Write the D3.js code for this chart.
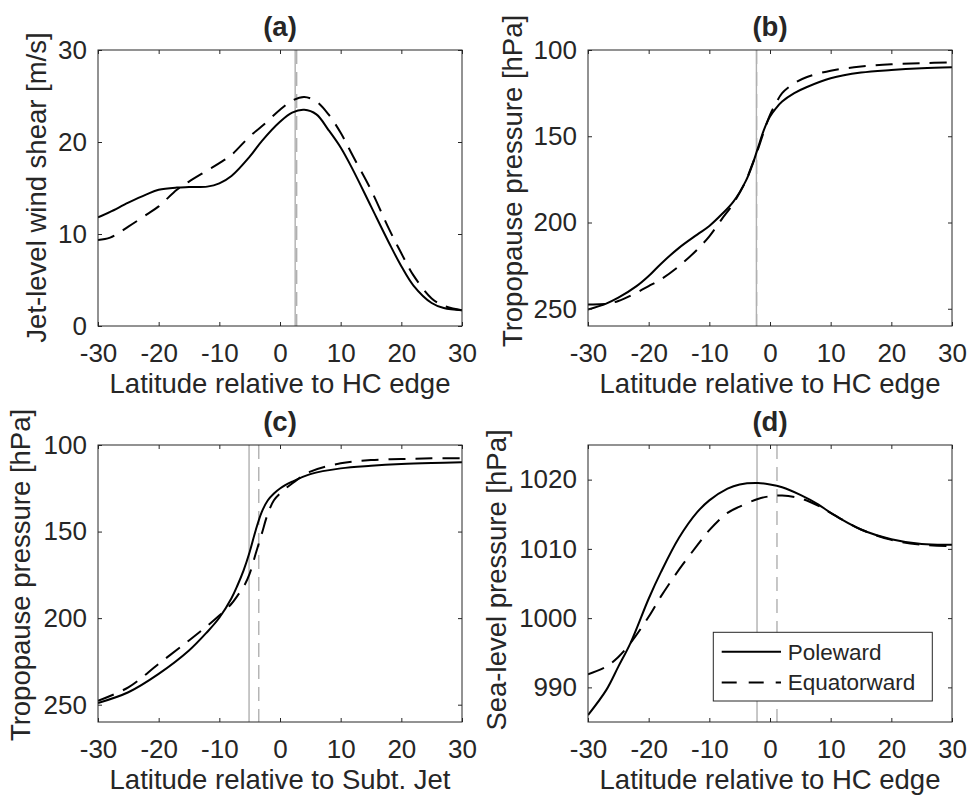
<!DOCTYPE html>
<html>
<head>
<meta charset="utf-8">
<script src="https://cdn.jsdelivr.net/npm/d3@7"></script>
<style>
  body { margin: 0; background: #fff; }
  text { font-family: "Liberation Sans", Arial, Helvetica, sans-serif; fill: #262626; }
</style>
</head>
<body>
<div id="fig"></div>
<script>
// ---- data (latitude relative to edge, deg) ----
const latA = [-30, -28, -25, -22, -20, -17, -15, -12, -10, -8, -5, -3, 0, 2, 4, 6, 8, 10, 12, 15, 18, 20, 22, 25, 27, 30];
const shearPole = [11.8, 12.4, 13.4, 14.3, 14.8, 15.05, 15.1, 15.15, 15.5, 16.3, 18.4, 20.1, 22.2, 23.2, 23.5, 23.0, 21.3, 19.4, 17.0, 13.0, 9.0, 6.5, 4.4, 2.5, 1.95, 1.7];
const shearEq = [9.35, 9.6, 10.8, 12.1, 13.0, 14.8, 15.7, 16.9, 17.7, 18.6, 20.6, 21.7, 23.5, 24.5, 24.9, 24.4, 23.0, 21.0, 18.5, 14.8, 10.5, 7.9, 5.5, 3.0, 2.2, 1.7];

const latB = [-30, -27, -25, -22, -20, -18, -15, -12, -10, -8, -6, -4, -3, -2, -1, 0, 1, 2, 4, 6, 10, 15, 20, 25, 30];
const tropPole = [250.4, 247, 243.6, 236.9, 231, 224, 214.7, 207, 202, 195.4, 187.7, 176, 167.5, 156.9, 146.3, 138.6, 133.7, 129.9, 125, 121.6, 116.4, 113.1, 111.6, 110.6, 110];
const tropEq = [247.5, 247.2, 245.5, 240.7, 236.9, 233, 225.3, 215.7, 208, 198.3, 188.7, 176, 167, 157.8, 147.2, 137.6, 130.8, 125, 119.3, 115.8, 112, 109.6, 108.3, 107.7, 107.1];

const latC = [-30, -25, -20, -15, -12, -10, -8, -7, -6, -5, -4, -3, -2, -1, 0, 2, 5, 10, 15, 20, 25, 30];
const jetPole = [249, 242.8, 232.2, 218.7, 208, 199.8, 188.5, 181, 172.4, 161.8, 149.2, 138.6, 131.9, 128, 125.1, 121.2, 116.8, 113.5, 112, 111, 110.4, 110];
const jetEq = [247.7, 240, 226.4, 212.9, 204.5, 198.5, 191.7, 187, 182, 174.3, 162.7, 151.2, 139.6, 131.9, 128, 122.2, 115.4, 110.6, 108.7, 108.1, 107.7, 107.6];

const latD = [-30, -27, -25, -23, -20, -18, -15, -12, -10, -7, -5, -2, 0, 2, 5, 8, 10, 15, 20, 25, 30];
const slpPole = [986.0, 989.6, 993.0, 996.4, 1002.8, 1006.6, 1011.6, 1015.3, 1017.0, 1018.7, 1019.3, 1019.5, 1019.3, 1018.9, 1017.8, 1016.4, 1015.2, 1012.8, 1011.4, 1010.7, 1010.6];
const slpEq = [991.9, 993, 994.4, 996.4, 1000.2, 1003.1, 1007, 1010.5, 1012.7, 1015.2, 1016.1, 1017.2, 1017.6, 1017.7, 1017.3, 1016.2, 1015.2, 1012.8, 1011.3, 1010.6, 1010.4];

// HC / jet edge positions (vertical gray lines), panels a-d
const edgePole = [2.5, -2.24, -5.1, -2.14];
const edgeEq = [2.75, -2.2, -3.5, 1.15];

const xTicks = [-30, -20, -10, 0, 10, 20, 30];
const shearTicks = [0, 10, 20, 30];
const tropTicks = [100, 150, 200, 250];
const slpTicks = [990, 1000, 1010, 1020];

const titles = ["(a)", "(b)", "(c)", "(d)"];
const yLabels = ["Jet-level wind shear [m/s]", "Tropopause pressure [hPa]", "Tropopause pressure [hPa]", "Sea-level pressure [hPa]"];
const xLabels = ["Latitude relative to HC edge", "Latitude relative to HC edge", "Latitude relative to Subt. Jet", "Latitude relative to HC edge"];
const seriesNames = ["Poleward", "Equatorward"];

// ---- layout ----
const W = 969, H = 797;
const pw = 364;
const panels = [
  { left: 98, top: 50, h: 276, lat: latA, pole: shearPole, eq: shearEq, yDomain: [0, 30], yTicks: shearTicks, ylabOff: 52, ylabY: 187.5 },
  { left: 588, top: 50, h: 276, lat: latB, pole: tropPole, eq: tropEq, yDomain: [260, 100], yTicks: tropTicks, ylabOff: 66, ylabY: 181 },
  { left: 98, top: 445, h: 277, lat: latC, pole: jetPole, eq: jetEq, yDomain: [260, 100], yTicks: tropTicks, ylabOff: 68.5, ylabY: 575 },
  { left: 588, top: 445, h: 277, lat: latD, pole: slpPole, eq: slpEq, yDomain: [985, 1025], yTicks: slpTicks, ylabOff: 82.5, ylabY: 580, legend: true }
];

const svg = d3.select("#fig").append("svg")
  .attr("width", W)
  .attr("height", H);

const ink = "#262626";
const dash = "17,10";

panels.forEach((p, i) => {
  const bottom = p.top + p.h, right = p.left + pw;
  const x = d3.scaleLinear().domain([-30, 30]).range([p.left, right]);
  const y = d3.scaleLinear().domain(p.yDomain).range([bottom, p.top]);
  const g = svg.append("g");

  g.append("clipPath").attr("id", "clip" + i)
    .append("rect").attr("x", p.left).attr("y", p.top).attr("width", pw).attr("height", p.h);
  const plot = g.append("g").attr("clip-path", `url(#clip${i})`);

  // edge markers
  plot.append("line")
    .attr("x1", x(edgePole[i])).attr("x2", x(edgePole[i]))
    .attr("y1", p.top).attr("y2", bottom)
    .attr("stroke", "#b0b0b0").attr("stroke-width", 1.4);
  plot.append("line")
    .attr("x1", x(edgeEq[i])).attr("x2", x(edgeEq[i]))
    .attr("y1", p.top).attr("y2", bottom)
    .attr("stroke", "#b0b0b0").attr("stroke-width", 1.4)
    .attr("stroke-dasharray", "14,8");

  const line = d3.line()
    .x(d => x(d[0]))
    .y(d => y(d[1]))
    .curve(d3.curveCatmullRom.alpha(0.5));

  plot.append("path")
    .attr("d", line(p.lat.map((v, k) => [v, p.eq[k]])))
    .attr("fill", "none").attr("stroke", "#000").attr("stroke-width", 2)
    .attr("stroke-dasharray", dash);
  plot.append("path")
    .attr("d", line(p.lat.map((v, k) => [v, p.pole[k]])))
    .attr("fill", "none").attr("stroke", "#000").attr("stroke-width", 2);

  // axes, ticks pointing inward on all sides
  const fmt = d => String(d);
  const styleAxis = sel => {
    sel.attr("font-size", 26);
    sel.select(".domain").remove();
    sel.selectAll(".tick line").attr("stroke", ink);
  };
  g.append("g").attr("transform", `translate(0,${bottom})`)
    .call(d3.axisBottom(x).tickValues(xTicks).tickSizeInner(-4).tickSizeOuter(0).tickPadding(17.6).tickFormat(fmt))
    .call(styleAxis);
  g.append("g").attr("transform", `translate(0,${p.top})`)
    .call(d3.axisTop(x).tickValues(xTicks).tickSizeInner(-4).tickSizeOuter(0).tickFormat(""))
    .call(styleAxis);
  g.append("g").attr("transform", `translate(${p.left},0)`)
    .call(d3.axisLeft(y).tickValues(p.yTicks).tickSizeInner(-4).tickSizeOuter(0).tickPadding(11).tickFormat(fmt))
    .call(styleAxis);
  g.append("g").attr("transform", `translate(${right},0)`)
    .call(d3.axisRight(y).tickValues(p.yTicks).tickSizeInner(-4).tickSizeOuter(0).tickFormat(""))
    .call(styleAxis);

  g.append("rect")
    .attr("x", p.left).attr("y", p.top).attr("width", pw).attr("height", p.h)
    .attr("fill", "none").attr("stroke", ink).attr("stroke-width", 1);

  // labels
  g.append("text")
    .attr("x", (p.left + right) / 2).attr("y", p.top - 14.5)
    .attr("text-anchor", "middle")
    .attr("font-size", 27.5).attr("font-weight", "bold")
    .text(titles[i]);
  g.append("text")
    .attr("x", (p.left + right) / 2).attr("y", bottom + 67)
    .attr("text-anchor", "middle")
    .attr("font-size", 27.5)
    .text(xLabels[i]);
  g.append("text")
    .attr("transform", `translate(${p.left - p.ylabOff},${p.ylabY}) rotate(-90)`)
    .attr("text-anchor", "middle")
    .attr("font-size", 27.5)
    .text(yLabels[i]);

  if (p.legend) {
    const lx = p.left + 125.3, ly = p.top + 187.3;
    const lg = g.append("g");
    lg.append("rect")
      .attr("x", lx).attr("y", ly).attr("width", 219).attr("height", 68.7)
      .attr("fill", "#fff").attr("stroke", ink).attr("stroke-width", 1);
    seriesNames.forEach((name, k) => {
      const ry = ly + 19.4 + k * 30.8;
      lg.append("line")
        .attr("x1", lx + 8.4).attr("x2", lx + 67.7)
        .attr("y1", ry).attr("y2", ry)
        .attr("stroke", "#000").attr("stroke-width", 2)
        .attr("stroke-dasharray", k === 1 ? "15,12" : null);
      lg.append("text")
        .attr("x", lx + 74.4).attr("y", ry + 7.9)
        .attr("font-size", 22.5)
        .text(name);
    });
  }
});
</script>
</body>
</html>
